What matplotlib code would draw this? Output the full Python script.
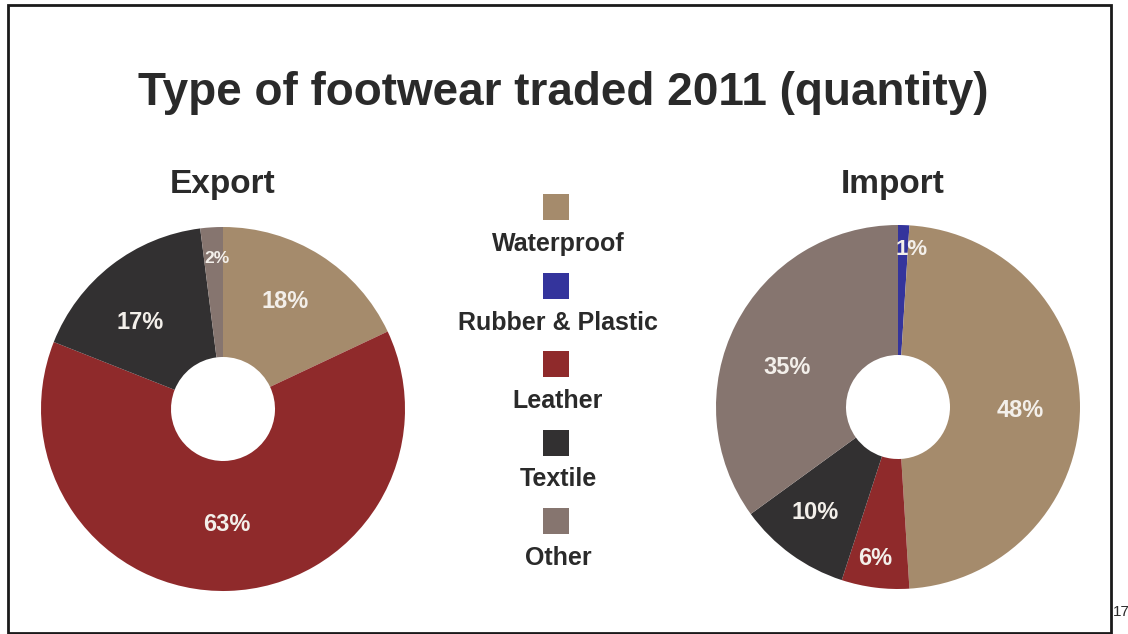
import numpy as np
import matplotlib.pyplot as plt
from matplotlib.patches import Rectangle

# Data
categories = ["Waterproof", "Rubber & Plastic", "Leather", "Textile", "Other"]
export_share = [18, 0, 63, 17, 2]      # Waterproof, Rubber & Plastic, Leather, Textile, Other
import_share = [48, 1, 6, 10, 35]      # same category order

title = "Type of footwear traded 2011 (quantity)"
panel_titles = ["Export", "Import"]

# Styling
colors = {
    "Waterproof": "#a58b6c",
    "Rubber & Plastic": "#34349c",
    "Leather": "#8f2a2b",
    "Textile": "#323031",
    "Other": "#86756f",
}
text_dark = "#2a2a2a"
FONT = "Liberation Sans"

W, H = 1128, 634
fig = plt.figure(figsize=(W / 100, H / 100), dpi=100)
ax = fig.add_axes([0, 0, 1, 1])


def py(y):
    """Convert a top-down pixel row to the upward data axis."""
    return H - y


def donut(shares, order, center, r_out, r_in, label_r, label_shift, label_sizes):
    vals = [shares[categories.index(c)] for c in order]
    cols = [colors[c] for c in order]
    wedges, _ = ax.pie(vals, colors=cols, startangle=90, counterclock=False,
                       center=center, radius=r_out,
                       wedgeprops=dict(width=r_out - r_in, linewidth=0))
    k = 0
    for w, v in zip(wedges, vals):
        if v <= 0:
            continue
        mid = np.deg2rad((w.theta1 + w.theta2) / 2 + label_shift[k])
        x = center[0] + label_r[k] * np.cos(mid)
        y = center[1] + label_r[k] * np.sin(mid)
        ax.text(x, y, f"{v}%", ha="center", va="center", color="#f3efea",
                fontsize=label_sizes[k], fontweight="bold", family=FONT)
        k += 1


# Export: clockwise from 12 o'clock
donut(export_share, ["Waterproof", "Rubber & Plastic", "Leather", "Textile", "Other"],
      center=(223, py(409)), r_out=182, r_in=52,
      label_r=[124, 116, 120, 151], label_shift=[2.4, 0, 5.8, -1.3],
      label_sizes=[17, 17, 17, 12.5])

# Import: clockwise from 12 o'clock
donut(import_share, ["Rubber & Plastic", "Waterproof", "Leather", "Textile", "Other"],
      center=(898, py(407)), r_out=182, r_in=52,
      label_r=[158, 122, 153, 134, 118], label_shift=[-3.2, -1.5, -1.5, -2, 7.6],
      label_sizes=[16, 17, 17, 17, 17])

ax.set_xlim(0, W)
ax.set_ylim(0, H)
ax.set_aspect("auto")
ax.axis("off")

# Title and panel headings
ax.text(563, py(93), title, ha="center", va="center", fontsize=33,
        fontweight="bold", color=text_dark, family=FONT)
ax.text(223, py(184), panel_titles[0], ha="center", va="center", fontsize=24,
        fontweight="bold", color=text_dark, family=FONT)
ax.text(893, py(184), panel_titles[1], ha="center", va="center", fontsize=24,
        fontweight="bold", color=text_dark, family=FONT)

# Legend: a square above each category name
for i, cat in enumerate(categories):
    sq_y = 207 + i * 78.5
    ax.add_patch(Rectangle((543, py(sq_y + 13)), 26, 26, facecolor=colors[cat],
                           edgecolor="none"))
    ax.text(558, py(sq_y + 37), cat, ha="center", va="center", fontsize=18,
            fontweight="bold", color=text_dark, family=FONT)

# Frame around the slide, with the page number beside it
ax.add_patch(Rectangle((8, py(633)), 1103, 628, facecolor="none",
                       edgecolor="#1a1a1a", linewidth=2, clip_on=False))
ax.text(1113, py(612), "17", ha="left", va="center", fontsize=11,
        color=text_dark, family=FONT)

fig.savefig("out.png", dpi=100)
